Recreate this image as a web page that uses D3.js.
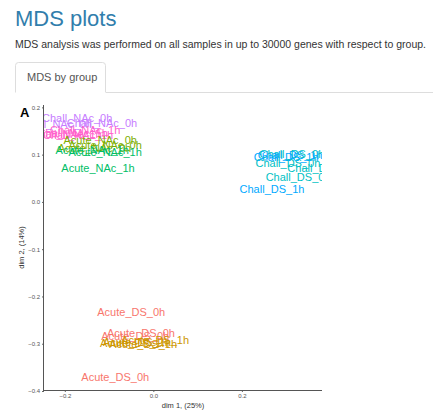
<!DOCTYPE html>
<html>
<head>
<meta charset="utf-8">
<script src="https://cdn.jsdelivr.net/npm/d3@7"></script>
<style>
  html, body { margin: 0; padding: 0; background: #fff; }
  svg { display: block; font-family: "Liberation Sans", Arial, Helvetica, sans-serif; }
</style>
</head>
<body>
<svg id="chart" width="433" height="416"></svg>
<script>
// ---- data ----
const groups = ["Acute_DS_0h","Acute_DS_1h","Acute_NAc_0h","Acute_NAc_1h","Chall_DS_0h","Chall_DS_1h","Chall_NAc_0h","Chall_NAc_1h"];
const groupColors = ["#F8766D","#CD9600","#7CAE00","#00BE67","#00BFC4","#00A9FF","#C77CFF","#FF61CC"];

const sampleGroup = [
  "Chall_NAc_0h","Chall_NAc_0h","Chall_NAc_0h",
  "Chall_NAc_1h","Chall_NAc_1h","Chall_NAc_1h","Chall_NAc_1h",
  "Acute_NAc_0h","Acute_NAc_0h","Acute_NAc_0h",
  "Acute_NAc_1h","Acute_NAc_1h","Acute_NAc_1h",
  "Chall_DS_1h","Chall_DS_0h","Chall_DS_1h","Chall_DS_0h","Chall_DS_0h","Chall_DS_0h","Chall_DS_1h",
  "Acute_DS_0h","Acute_DS_0h","Acute_DS_0h","Acute_DS_0h",
  "Acute_DS_1h","Acute_DS_1h","Acute_DS_1h","Acute_DS_1h"
];
const dim1 = [
  -0.172, -0.116, -0.219,
  -0.154, -0.182, -0.196, -0.170,
  -0.120, -0.109, -0.133,
  -0.138, -0.109, -0.125,
   0.309,  0.313,  0.300,  0.304,  0.376,  0.327,  0.268,
  -0.050, -0.028, -0.041, -0.086,
   0.004, -0.037, -0.023, -0.044
];
const dim2 = [
  0.178, 0.167, 0.165,
  0.152, 0.146, 0.144, 0.142,
  0.131, 0.120, 0.114,
  0.110, 0.106, 0.072,
  0.099, 0.101, 0.095, 0.082, 0.071, 0.053, 0.027,
  -0.233, -0.277, -0.284, -0.370,
  -0.292, -0.296, -0.300, -0.298
];

const xTicks = [-0.2, 0.0, 0.2];
const yTicks = [-0.4, -0.3, -0.2, -0.1, 0.0, 0.1, 0.2];
const xTitle = "dim 1, (25%)";
const yTitle = "dim 2, (14%)";

// ---- layout ----
const svg = d3.select("#chart");

svg.append("text").attr("x", 15).attr("y", 26)
  .attr("font-size", 22).attr("fill", "#317eac").text("MDS plots");
svg.append("text").attr("x", 15).attr("y", 48)
  .attr("font-size", 10.5).attr("fill", "#333")
  .attr("textLength", 411).attr("lengthAdjust", "spacingAndGlyphs")
  .text("MDS analysis was performed on all samples in up to 30000 genes with respect to group.");

// tab
svg.append("line").attr("x1", 106).attr("x2", 433).attr("y1", 92.5).attr("y2", 92.5)
  .attr("stroke", "#ddd");
svg.append("path")
  .attr("d", "M15.5,92.5 V65.5 Q15.5,62.5 18.5,62.5 H102.5 Q105.5,62.5 105.5,65.5 V92.5")
  .attr("fill", "#fff").attr("stroke", "#ddd");
svg.append("text").attr("x", 27).attr("y", 81).attr("font-size", 11)
  .attr("fill", "#555").text("MDS by group");

// plot panel
const pLeft = 44, pRight = 322, pTop = 105, pBottom = 390;
const x = d3.scaleLinear().domain([-0.247, 0.381]).range([pLeft, pRight]);
const y = d3.scaleLinear().domain([-0.4, 0.205]).range([391, pTop]);
const color = d3.scaleOrdinal().domain(groups).range(groupColors);

svg.append("text").attr("x", 20).attr("y", 117).attr("font-size", 13)
  .attr("font-weight", "bold").attr("fill", "#000").text("A");

svg.append("clipPath").attr("id", "panel")
  .append("rect").attr("x", pLeft).attr("y", pTop).attr("width", pRight - pLeft).attr("height", pBottom - pTop);

const labels = svg.append("g").attr("clip-path", "url(#panel)");
labels.selectAll("text").data(d3.range(sampleGroup.length)).join("text")
  .attr("x", i => x(dim1[i]))
  .attr("y", i => y(dim2[i]))
  .attr("text-anchor", "middle")
  .attr("dominant-baseline", "central")
  .attr("font-size", 11)
  .attr("fill", i => color(sampleGroup[i]))
  .text(i => sampleGroup[i]);

// axes
const xAxis = svg.append("g").attr("transform", `translate(0,${pBottom})`)
  .call(d3.axisBottom(x).tickValues(xTicks).tickFormat(d3.format(".1f")).tickSize(2).tickPadding(2));
const yAxis = svg.append("g").attr("transform", `translate(${pLeft},0)`)
  .call(d3.axisLeft(y).tickValues(yTicks).tickFormat(d3.format(".1f")).tickSize(2).tickPadding(2));
[xAxis, yAxis].forEach(a => {
  a.select(".domain").remove();
  a.selectAll(".tick line").attr("stroke", "#666");
  a.selectAll(".tick text").attr("font-size", 6).attr("fill", "#555")
    .attr("font-family", "'Liberation Sans', Arial, sans-serif");
});
svg.append("line").attr("x1", pLeft).attr("x2", pRight).attr("y1", pBottom + 0.5).attr("y2", pBottom + 0.5)
  .attr("stroke", "#555");
svg.append("line").attr("x1", pLeft - 0.5).attr("x2", pLeft - 0.5).attr("y1", pTop).attr("y2", pBottom + 1)
  .attr("stroke", "#555");

svg.append("text").attr("x", (pLeft + pRight) / 2).attr("y", 408).attr("text-anchor", "middle")
  .attr("font-size", 7.5).attr("fill", "#333").text(xTitle);
svg.append("text").attr("transform", `translate(24,${(pTop + pBottom) / 2}) rotate(-90)`)
  .attr("text-anchor", "middle").attr("font-size", 7.5).attr("fill", "#333").text(yTitle);
</script>
</body>
</html>
